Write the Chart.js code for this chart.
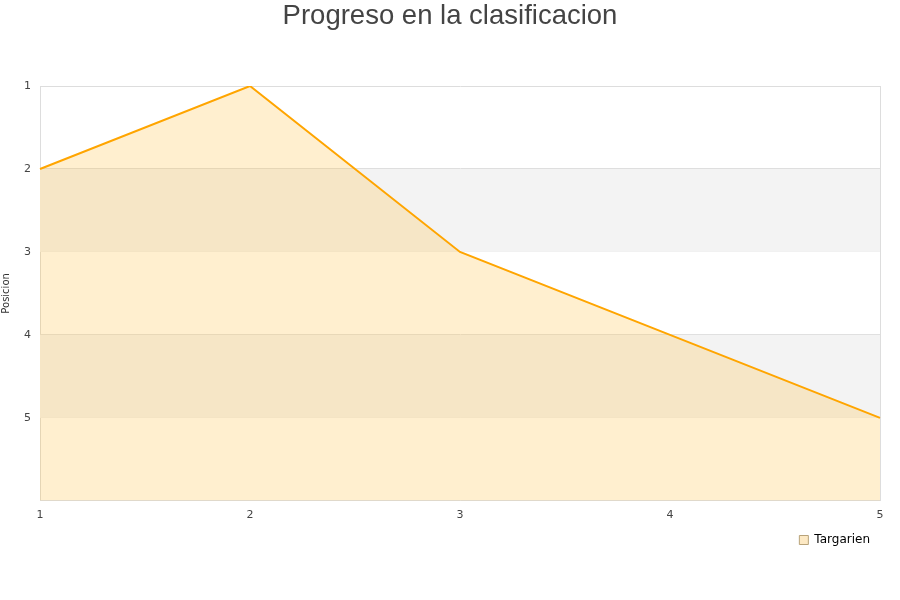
<!DOCTYPE html>
<html>
<head>
<meta charset="utf-8">
<script src="https://cdn.jsdelivr.net/npm/chart.js@4/dist/chart.umd.min.js"></script>
<style>
  body { margin: 0; background: #fff; }
  #wrap { width: 900px; height: 600px; }
</style>
</head>
<body>
<div id="wrap"><canvas id="myChart"></canvas></div>
<script>
var jornadas = ["1", "2", "3", "4", "5"];
var posiciones = [2, 1, 3, 4, 5];
var equipo = "Targarien";

// franjas grises entre 2-3 y 4-5
var bandas = {
  id: "bandas",
  beforeDatasetsDraw: function (chart) {
    var c = chart.ctx, a = chart.chartArea, y = chart.scales.y;
    c.save();
    c.fillStyle = "#f3f3f3";
    [[2, 3], [4, 5]].forEach(function (b) {
      var y1 = y.getPixelForValue(b[0]), y2 = y.getPixelForValue(b[1]);
      c.fillRect(a.left, y1, a.right - a.left, y2 - y1);
    });
    c.restore();
  }
};

var ctx = document.getElementById("myChart").getContext("2d");
var myChart = new Chart(ctx, {
  type: "line",
  data: {
    labels: jornadas,
    datasets: [
      {
        label: equipo,
        data: posiciones,
        borderColor: "#ffa500",
        backgroundColor: "rgba(255, 193, 64, 0.25)",
        borderWidth: 2,
        pointRadius: 0,
        tension: 0,
        fill: "start"
      }
    ]
  },
  options: {
    responsive: true,
    maintainAspectRatio: false,
    animation: false,
    layout: { padding: { right: 0, bottom: 44 } },
    plugins: {
      title: {
        display: true,
        text: "Progreso en la clasificacion",
        color: "#444",
        font: { family: "Liberation Sans", size: 27.5, weight: "normal" },
        padding: { top: 0, bottom: 53 }
      },
      legend: {
        position: "bottom",
        align: "end",
        fullSize: false,
        labels: {
          color: "#222",
          font: { family: "DejaVu Sans", size: 12 },
          boxWidth: 9,
          boxHeight: 9,
          generateLabels: function (chart) {
            return chart.data.datasets.map(function (d, i) {
              return {
                text: d.label,
                fillStyle: "#fde9c4",
                strokeStyle: "#b8a37a",
                lineWidth: 1,
                datasetIndex: i
              };
            });
          }
        }
      },
      tooltip: { enabled: false }
    },
    scales: {
      x: {
        grid: {
          drawTicks: false,
          color: function (c) { return c.index === jornadas.length - 1 ? "#dddddd" : "rgba(0,0,0,0)"; }
        },
        border: { color: "#dddddd" },
        ticks: { color: "#444", font: { family: "DejaVu Sans", size: 11 }, padding: 8, maxRotation: 0 },
        title: { display: false },
        afterFit: function (s) { s.height = s.height - 6; }
      },
      y: {
        reverse: true,
        min: 1,
        max: 6,
        grid: { drawTicks: false, color: "#dddddd" },
        border: { color: "#dddddd" },
        ticks: {
          stepSize: 1,
          color: "#444",
          font: { family: "DejaVu Sans", size: 11 },
          padding: 9,
          callback: function (v) { return v <= 5 ? v : ""; }
        },
        title: {
          display: true,
          text: "Posicion",
          color: "#333",
          font: { family: "DejaVu Sans", size: 10 },
          padding: 0
        },
        afterFit: function (s) { s.width = 40; }
      },
      // eje vacio a la derecha, solo para dejar margen
      yDer: {
        position: "right",
        grid: { display: false },
        border: { display: false },
        ticks: { display: false },
        afterFit: function (s) { s.width = 20; }
      }
    }
  },
  plugins: [bandas]
});
</script>
</body>
</html>
